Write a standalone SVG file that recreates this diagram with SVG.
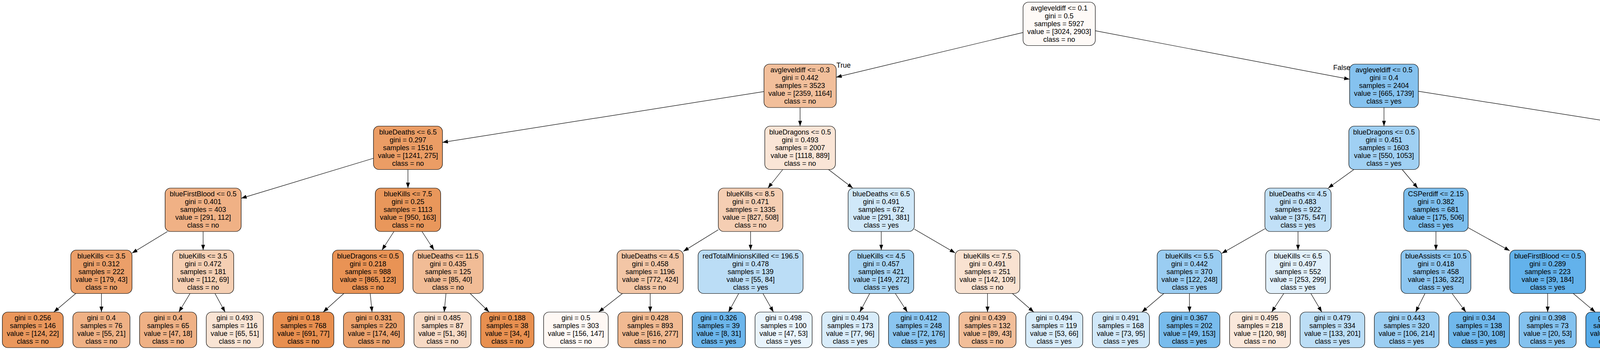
<svg xmlns="http://www.w3.org/2000/svg" width="5259" height="895" viewBox="0 0 5259 895">
<style>
.n rect{stroke:#000;stroke-width:1.2}
text{font-family:"Liberation Sans",Arial,Helvetica,sans-serif;font-size:18px;fill:#000;text-anchor:middle}
.e path{stroke:#000;stroke-width:1.2;fill:none;marker-end:url(#ah)}
</style>
<defs>
<marker id="ah" markerUnits="userSpaceOnUse" markerWidth="14" markerHeight="10" refX="14" refY="5" orient="auto"><path d="M0,0 L14,5 L0,10 z" fill="#000"/></marker>
</defs>
<rect x="0" y="0" width="5259" height="895" fill="#fff"/>
<g id="edges" class="e">
<path d="M2619,83.1 L2140.75,197.4"/>
<path d="M2804,78.6 L3455,202.7"/>
<path d="M1955.75,234.1 L1132.7,364.1"/>
<path d="M2048.25,275 L2048.25,322.5"/>
<path d="M3543,275 L3543,322.5"/>
<path d="M3631,233.4 L4454.45,363.6"/>
<path d="M956.1,404.7 L617.4,507.1"/>
<path d="M1044.4,433.5 L1044.4,481"/>
<path d="M2003.86,433.5 L1965.89,481"/>
<path d="M2121,433.5 L2183.25,481"/>
<path d="M3465.92,433.5 L3399.98,481"/>
<path d="M3589.58,433.5 L3629.42,481"/>
<path d="M4545.3,433.5 L4545.3,481"/>
<path d="M4636.15,429.1 L4749.1,492.7"/>
<path d="M428.8,592 L337.95,647.3"/>
<path d="M520,592 L520,639.5"/>
<path d="M1008.5,592 L977.9,639.5"/>
<path d="M1080.3,592 L1111.1,639.5"/>
<path d="M1838.85,587.5 L1749.35,642.7"/>
<path d="M1921.5,592 L1921.5,639.5"/>
<path d="M2256,592 L2256,639.5"/>
<path d="M2340.8,585.9 L2445.2,646.75"/>
<path d="M3238.1,584.9 L3127.65,647.9"/>
<path d="M3322.9,592 L3322.9,639.5"/>
<path d="M3676,592 L3676,639.5"/>
<path d="M3758.5,582.2 L3865,641.2"/>
<path d="M4512.6,592 L4484.7,639.5"/>
<path d="M4580.4,592 L4610.4,639.5"/>
<path d="M4827,592 L4827,649.5"/>
<path d="M4891.1,592 L4945.9,639.5"/>
<path d="M193.98,750.5 L137.8,798"/>
<path d="M259.6,750.5 L259.6,798"/>
<path d="M486.5,750.5 L457.9,798"/>
<path d="M550.3,750.5 L576.25,798"/>
<path d="M880.2,750.5 L827.35,798"/>
<path d="M947.7,750.5 L952.5,798"/>
<path d="M1141.7,750.5 L1137.15,798"/>
<path d="M1203.7,750.5 L1252.2,798"/>
<path d="M1593.5,750.5 L1532.65,798"/>
<path d="M1664.5,750.5 L1664.5,798"/>
<path d="M1891.1,750.5 L1865,798"/>
<path d="M1953.1,750.5 L1980.1,798"/>
<path d="M2226.4,750.5 L2201.1,798"/>
<path d="M2292,750.5 L2322.9,798"/>
<path d="M2528,750.5 L2528,798"/>
<path d="M2591.8,750.5 L2646.5,798"/>
<path d="M2979.4,750.5 L2923.3,798"/>
<path d="M3045,750.5 L3045,798"/>
<path d="M3286.5,750.5 L3255.4,798"/>
<path d="M3355.8,750.5 L3383.9,798"/>
<path d="M3648,750.5 L3624.05,798"/>
<path d="M3717.3,750.5 L3752.6,798"/>
<path d="M3962,750.5 L3962,798"/>
<path d="M4027.6,750.5 L4083.8,798"/>
<path d="M4398.3,750.5 L4352.4,798"/>
<path d="M4460.3,750.5 L4467.5,798"/>
<path d="M4645.5,750.5 L4645.5,798"/>
<path d="M4709.1,750.5 L4763.6,798"/>
<path d="M5005.9,750.5 L5002.3,798"/>
<path d="M5071.5,750.5 L5124.2,798"/>
<text x="2159.5" y="173">True</text>
<text x="3435" y="178.5">False</text>
</g>
<g id="node0" class="n"><rect x="2619" y="5.5" width="185" height="111" rx="14" fill="#fefaf7"/><text x="2711.5" y="26.6"><tspan x="2711.5">avgleveldiff &lt;= 0.1</tspan><tspan x="2711.5" dy="20">gini = 0.5</tspan><tspan x="2711.5" dy="20">samples = 5927</tspan><tspan x="2711.5" dy="20">value = [3024, 2903]</tspan><tspan x="2711.5" dy="20">class = no</tspan></text></g>
<g id="node1" class="n"><rect x="1955.75" y="164" width="185" height="111" rx="14" fill="#f2bf9b"/><text x="2048.25" y="185.1"><tspan x="2048.25">avgleveldiff &lt;= -0.3</tspan><tspan x="2048.25" dy="20">gini = 0.442</tspan><tspan x="2048.25" dy="20">samples = 3523</tspan><tspan x="2048.25" dy="20">value = [2359, 1164]</tspan><tspan x="2048.25" dy="20">class = no</tspan></text></g>
<g id="node2" class="n"><rect x="3455" y="164" width="176" height="111" rx="14" fill="#85c2ef"/><text x="3543" y="185.1"><tspan x="3543">avgleveldiff &lt;= 0.5</tspan><tspan x="3543" dy="20">gini = 0.4</tspan><tspan x="3543" dy="20">samples = 2404</tspan><tspan x="3543" dy="20">value = [665, 1739]</tspan><tspan x="3543" dy="20">class = yes</tspan></text></g>
<g id="node3" class="n"><rect x="956.1" y="322.5" width="176.6" height="111" rx="14" fill="#eb9d65"/><text x="1044.4" y="343.6"><tspan x="1044.4">blueDeaths &lt;= 6.5</tspan><tspan x="1044.4" dy="20">gini = 0.297</tspan><tspan x="1044.4" dy="20">samples = 1516</tspan><tspan x="1044.4" dy="20">value = [1241, 275]</tspan><tspan x="1044.4" dy="20">class = no</tspan></text></g>
<g id="node4" class="n"><rect x="1957.85" y="322.5" width="180.8" height="111" rx="14" fill="#fae5d6"/><text x="2048.25" y="343.6"><tspan x="2048.25">blueDragons &lt;= 0.5</tspan><tspan x="2048.25" dy="20">gini = 0.493</tspan><tspan x="2048.25" dy="20">samples = 2007</tspan><tspan x="2048.25" dy="20">value = [1118, 889]</tspan><tspan x="2048.25" dy="20">class = no</tspan></text></g>
<g id="node5" class="n"><rect x="3453" y="322.5" width="180" height="111" rx="14" fill="#a0d0f3"/><text x="3543" y="343.6"><tspan x="3543">blueDragons &lt;= 0.5</tspan><tspan x="3543" dy="20">gini = 0.451</tspan><tspan x="3543" dy="20">samples = 1603</tspan><tspan x="3543" dy="20">value = [550, 1053]</tspan><tspan x="3543" dy="20">class = yes</tspan></text></g>
<g id="node6" class="n"><rect x="4454.45" y="322.5" width="181.7" height="111" rx="14" fill="#5aade9"/><text x="4545.3" y="343.6"><tspan x="4545.3">blueDragons &lt;= 0.5</tspan><tspan x="4545.3" dy="20">gini = 0.246</tspan><tspan x="4545.3" dy="20">samples = 801</tspan><tspan x="4545.3" dy="20">value = [115, 686]</tspan><tspan x="4545.3" dy="20">class = yes</tspan></text></g>
<g id="node7" class="n"><rect x="422.6" y="481" width="194.8" height="111" rx="14" fill="#f0b185"/><text x="520" y="502.1"><tspan x="520">blueFirstBlood &lt;= 0.5</tspan><tspan x="520" dy="20">gini = 0.401</tspan><tspan x="520" dy="20">samples = 403</tspan><tspan x="520" dy="20">value = [291, 112]</tspan><tspan x="520" dy="20">class = no</tspan></text></g>
<g id="node8" class="n"><rect x="960.7" y="481" width="167.4" height="111" rx="14" fill="#e9975b"/><text x="1044.4" y="502.1"><tspan x="1044.4">blueKills &lt;= 7.5</tspan><tspan x="1044.4" dy="20">gini = 0.25</tspan><tspan x="1044.4" dy="20">samples = 1113</tspan><tspan x="1044.4" dy="20">value = [950, 163]</tspan><tspan x="1044.4" dy="20">class = no</tspan></text></g>
<g id="node9" class="n"><rect x="1838.85" y="481" width="165.3" height="111" rx="14" fill="#f5ceb3"/><text x="1921.5" y="502.1"><tspan x="1921.5">blueKills &lt;= 8.5</tspan><tspan x="1921.5" dy="20">gini = 0.471</tspan><tspan x="1921.5" dy="20">samples = 1335</tspan><tspan x="1921.5" dy="20">value = [827, 508]</tspan><tspan x="1921.5" dy="20">class = no</tspan></text></g>
<g id="node10" class="n"><rect x="2171.2" y="481" width="169.6" height="111" rx="14" fill="#d0e8f9"/><text x="2256" y="502.1"><tspan x="2256">blueDeaths &lt;= 6.5</tspan><tspan x="2256" dy="20">gini = 0.491</tspan><tspan x="2256" dy="20">samples = 672</tspan><tspan x="2256" dy="20">value = [291, 381]</tspan><tspan x="2256" dy="20">class = yes</tspan></text></g>
<g id="node11" class="n"><rect x="3238.1" y="481" width="169.6" height="111" rx="14" fill="#c1e0f7"/><text x="3322.9" y="502.1"><tspan x="3322.9">blueDeaths &lt;= 4.5</tspan><tspan x="3322.9" dy="20">gini = 0.483</tspan><tspan x="3322.9" dy="20">samples = 922</tspan><tspan x="3322.9" dy="20">value = [375, 547]</tspan><tspan x="3322.9" dy="20">class = yes</tspan></text></g>
<g id="node12" class="n"><rect x="3593.5" y="481" width="165" height="111" rx="14" fill="#7dbfee"/><text x="3676" y="502.1"><tspan x="3676">CSPerdiff &lt;= 2.15</tspan><tspan x="3676" dy="20">gini = 0.382</tspan><tspan x="3676" dy="20">samples = 681</tspan><tspan x="3676" dy="20">value = [175, 506]</tspan><tspan x="3676" dy="20">class = yes</tspan></text></g>
<g id="node13" class="n"><rect x="4460.95" y="481" width="168.7" height="111" rx="14" fill="#6bb6ec"/><text x="4545.3" y="502.1"><tspan x="4545.3">avgleveldiff &lt;= 0.7</tspan><tspan x="4545.3" dy="20">gini = 0.322</tspan><tspan x="4545.3" dy="20">samples = 387</tspan><tspan x="4545.3" dy="20">value = [78, 309]</tspan><tspan x="4545.3" dy="20">class = yes</tspan></text></g>
<g id="node14" class="n"><rect x="4749.1" y="481" width="155.8" height="111" rx="14" fill="#4ca7e8"/><text x="4827" y="502.1"><tspan x="4827">blueKills &lt;= 5.5</tspan><tspan x="4827" dy="20">gini = 0.163</tspan><tspan x="4827" dy="20">samples = 414</tspan><tspan x="4827" dy="20">value = [37, 377]</tspan><tspan x="4827" dy="20">class = yes</tspan></text></g>
<g id="node15" class="n"><rect x="181.25" y="639.5" width="156.7" height="111" rx="14" fill="#eb9f69"/><text x="259.6" y="660.6"><tspan x="259.6">blueKills &lt;= 3.5</tspan><tspan x="259.6" dy="20">gini = 0.312</tspan><tspan x="259.6" dy="20">samples = 222</tspan><tspan x="259.6" dy="20">value = [179, 43]</tspan><tspan x="259.6" dy="20">class = no</tspan></text></g>
<g id="node16" class="n"><rect x="441.65" y="639.5" width="156.7" height="111" rx="14" fill="#f5cfb3"/><text x="520" y="660.6"><tspan x="520">blueKills &lt;= 3.5</tspan><tspan x="520" dy="20">gini = 0.472</tspan><tspan x="520" dy="20">samples = 181</tspan><tspan x="520" dy="20">value = [112, 69]</tspan><tspan x="520" dy="20">class = no</tspan></text></g>
<g id="node17" class="n"><rect x="851.2" y="639.5" width="181.6" height="111" rx="14" fill="#e99355"/><text x="942" y="660.6"><tspan x="942">blueDragons &lt;= 0.5</tspan><tspan x="942" dy="20">gini = 0.218</tspan><tspan x="942" dy="20">samples = 988</tspan><tspan x="942" dy="20">value = [865, 123]</tspan><tspan x="942" dy="20">class = no</tspan></text></g>
<g id="node18" class="n"><rect x="1057" y="639.5" width="180" height="111" rx="14" fill="#f1bc96"/><text x="1147" y="660.6"><tspan x="1147">blueDeaths &lt;= 11.5</tspan><tspan x="1147" dy="20">gini = 0.435</tspan><tspan x="1147" dy="20">samples = 125</tspan><tspan x="1147" dy="20">value = [85, 40]</tspan><tspan x="1147" dy="20">class = no</tspan></text></g>
<g id="node19" class="n"><rect x="1579.65" y="639.5" width="169.7" height="111" rx="14" fill="#f3c6a6"/><text x="1664.5" y="660.6"><tspan x="1664.5">blueDeaths &lt;= 4.5</tspan><tspan x="1664.5" dy="20">gini = 0.458</tspan><tspan x="1664.5" dy="20">samples = 1196</tspan><tspan x="1664.5" dy="20">value = [772, 424]</tspan><tspan x="1664.5" dy="20">class = no</tspan></text></g>
<g id="node20" class="n"><rect x="1787.15" y="639.5" width="268.7" height="111" rx="14" fill="#bbddf6"/><text x="1921.5" y="660.6"><tspan x="1921.5">redTotalMinionsKilled &lt;= 196.5</tspan><tspan x="1921.5" dy="20">gini = 0.478</tspan><tspan x="1921.5" dy="20">samples = 139</tspan><tspan x="1921.5" dy="20">value = [55, 84]</tspan><tspan x="1921.5" dy="20">class = yes</tspan></text></g>
<g id="node21" class="n"><rect x="2172.9" y="639.5" width="166.2" height="111" rx="14" fill="#a5d3f3"/><text x="2256" y="660.6"><tspan x="2256">blueKills &lt;= 4.5</tspan><tspan x="2256" dy="20">gini = 0.457</tspan><tspan x="2256" dy="20">samples = 421</tspan><tspan x="2256" dy="20">value = [149, 272]</tspan><tspan x="2256" dy="20">class = yes</tspan></text></g>
<g id="node22" class="n"><rect x="2445.2" y="639.5" width="165.6" height="111" rx="14" fill="#f9e2d1"/><text x="2528" y="660.6"><tspan x="2528">blueKills &lt;= 7.5</tspan><tspan x="2528" dy="20">gini = 0.491</tspan><tspan x="2528" dy="20">samples = 251</tspan><tspan x="2528" dy="20">value = [142, 109]</tspan><tspan x="2528" dy="20">class = no</tspan></text></g>
<g id="node23" class="n"><rect x="2962.35" y="639.5" width="165.3" height="111" rx="14" fill="#9acdf2"/><text x="3045" y="660.6"><tspan x="3045">blueKills &lt;= 5.5</tspan><tspan x="3045" dy="20">gini = 0.442</tspan><tspan x="3045" dy="20">samples = 370</tspan><tspan x="3045" dy="20">value = [122, 248]</tspan><tspan x="3045" dy="20">class = yes</tspan></text></g>
<g id="node24" class="n"><rect x="3240.25" y="639.5" width="165.3" height="111" rx="14" fill="#e1f0fb"/><text x="3322.9" y="660.6"><tspan x="3322.9">blueKills &lt;= 6.5</tspan><tspan x="3322.9" dy="20">gini = 0.497</tspan><tspan x="3322.9" dy="20">samples = 552</tspan><tspan x="3322.9" dy="20">value = [253, 299]</tspan><tspan x="3322.9" dy="20">class = yes</tspan></text></g>
<g id="node25" class="n"><rect x="3586.5" y="639.5" width="179" height="111" rx="14" fill="#8dc6f0"/><text x="3676" y="660.6"><tspan x="3676">blueAssists &lt;= 10.5</tspan><tspan x="3676" dy="20">gini = 0.418</tspan><tspan x="3676" dy="20">samples = 458</tspan><tspan x="3676" dy="20">value = [136, 322]</tspan><tspan x="3676" dy="20">class = yes</tspan></text></g>
<g id="node26" class="n"><rect x="3865" y="639.5" width="194" height="111" rx="14" fill="#63b2eb"/><text x="3962" y="660.6"><tspan x="3962">blueFirstBlood &lt;= 0.5</tspan><tspan x="3962" dy="20">gini = 0.289</tspan><tspan x="3962" dy="20">samples = 223</tspan><tspan x="3962" dy="20">value = [39, 184]</tspan><tspan x="3962" dy="20">class = yes</tspan></text></g>
<g id="node27" class="n"><rect x="4366.75" y="639.5" width="170.5" height="111" rx="14" fill="#7fc0ee"/><text x="4452" y="660.6"><tspan x="4452">blueDeaths &lt;= 3.5</tspan><tspan x="4452" dy="20">gini = 0.386</tspan><tspan x="4452" dy="20">samples = 207</tspan><tspan x="4452" dy="20">value = [54, 153]</tspan><tspan x="4452" dy="20">class = yes</tspan></text></g>
<g id="node28" class="n"><rect x="4562.85" y="639.5" width="165.3" height="111" rx="14" fill="#57ace9"/><text x="4645.5" y="660.6"><tspan x="4645.5">CSPerdiff &lt;= 1.75</tspan><tspan x="4645.5" dy="20">gini = 0.231</tspan><tspan x="4645.5" dy="20">samples = 180</tspan><tspan x="4645.5" dy="20">value = [24, 156]</tspan><tspan x="4645.5" dy="20">class = yes</tspan></text></g>
<g id="node29" class="n"><rect x="4754.25" y="649.5" width="145.5" height="91" rx="14" fill="#79bced"/><text x="4827" y="670.6"><tspan x="4827">gini = 0.369</tspan><tspan x="4827" dy="20">samples = 41</tspan><tspan x="4827" dy="20">value = [10, 31]</tspan><tspan x="4827" dy="20">class = yes</tspan></text></g>
<g id="node30" class="n"><rect x="4925.2" y="639.5" width="169.6" height="111" rx="14" fill="#48a5e7"/><text x="5010" y="660.6"><tspan x="5010">blueDeaths &lt;= 3.5</tspan><tspan x="5010" dy="20">gini = 0.134</tspan><tspan x="5010" dy="20">samples = 373</tspan><tspan x="5010" dy="20">value = [27, 346]</tspan><tspan x="5010" dy="20">class = yes</tspan></text></g>
<g id="leaf1" class="n"><rect x="6" y="798" width="155.9" height="91" rx="14" fill="#ea975c"/><text x="84" y="819.1"><tspan x="84">gini = 0.256</tspan><tspan x="84" dy="20">samples = 146</tspan><tspan x="84" dy="20">value = [124, 22]</tspan><tspan x="84" dy="20">class = no</tspan></text></g>
<g id="leaf2" class="n"><rect x="186.5" y="798" width="146.2" height="91" rx="14" fill="#efb185"/><text x="259.6" y="819.1"><tspan x="259.6">gini = 0.4</tspan><tspan x="259.6" dy="20">samples = 76</tspan><tspan x="259.6" dy="20">value = [55, 21]</tspan><tspan x="259.6" dy="20">class = no</tspan></text></g>
<g id="leaf3" class="n"><rect x="357.3" y="798" width="146.2" height="91" rx="14" fill="#efb185"/><text x="430.4" y="819.1"><tspan x="430.4">gini = 0.4</tspan><tspan x="430.4" dy="20">samples = 65</tspan><tspan x="430.4" dy="20">value = [47, 18]</tspan><tspan x="430.4" dy="20">class = no</tspan></text></g>
<g id="leaf4" class="n"><rect x="528" y="798" width="146.2" height="91" rx="14" fill="#f9e4d4"/><text x="601.1" y="819.1"><tspan x="601.1">gini = 0.493</tspan><tspan x="601.1" dy="20">samples = 116</tspan><tspan x="601.1" dy="20">value = [65, 51]</tspan><tspan x="601.1" dy="20">class = no</tspan></text></g>
<g id="leaf5" class="n"><rect x="698.8" y="798" width="155.9" height="91" rx="14" fill="#e88f4f"/><text x="776.7" y="819.1"><tspan x="776.7">gini = 0.18</tspan><tspan x="776.7" dy="20">samples = 768</tspan><tspan x="776.7" dy="20">value = [691, 77]</tspan><tspan x="776.7" dy="20">class = no</tspan></text></g>
<g id="leaf6" class="n"><rect x="879.3" y="798" width="155.9" height="91" rx="14" fill="#eca26d"/><text x="957.2" y="819.1"><tspan x="957.2">gini = 0.331</tspan><tspan x="957.2" dy="20">samples = 220</tspan><tspan x="957.2" dy="20">value = [174, 46]</tspan><tspan x="957.2" dy="20">class = no</tspan></text></g>
<g id="leaf7" class="n"><rect x="1059.7" y="798" width="146.2" height="91" rx="14" fill="#f7dac5"/><text x="1132.8" y="819.1"><tspan x="1132.8">gini = 0.485</tspan><tspan x="1132.8" dy="20">samples = 87</tspan><tspan x="1132.8" dy="20">value = [51, 36]</tspan><tspan x="1132.8" dy="20">class = no</tspan></text></g>
<g id="leaf8" class="n"><rect x="1230.5" y="798" width="136.5" height="91" rx="14" fill="#e89050"/><text x="1298.7" y="819.1"><tspan x="1298.7">gini = 0.188</tspan><tspan x="1298.7" dy="20">samples = 38</tspan><tspan x="1298.7" dy="20">value = [34, 4]</tspan><tspan x="1298.7" dy="20">class = no</tspan></text></g>
<g id="leaf9" class="n"><rect x="1391.6" y="798" width="165.6" height="91" rx="14" fill="#fef8f4"/><text x="1474.4" y="819.1"><tspan x="1474.4">gini = 0.5</tspan><tspan x="1474.4" dy="20">samples = 303</tspan><tspan x="1474.4" dy="20">value = [156, 147]</tspan><tspan x="1474.4" dy="20">class = no</tspan></text></g>
<g id="leaf10" class="n"><rect x="1581.7" y="798" width="165.6" height="91" rx="14" fill="#f1ba92"/><text x="1664.5" y="819.1"><tspan x="1664.5">gini = 0.428</tspan><tspan x="1664.5" dy="20">samples = 893</tspan><tspan x="1664.5" dy="20">value = [616, 277]</tspan><tspan x="1664.5" dy="20">class = no</tspan></text></g>
<g id="leaf11" class="n"><rect x="1771.9" y="798" width="136.5" height="91" rx="14" fill="#6cb6ec"/><text x="1840.1" y="819.1"><tspan x="1840.1">gini = 0.326</tspan><tspan x="1840.1" dy="20">samples = 39</tspan><tspan x="1840.1" dy="20">value = [8, 31]</tspan><tspan x="1840.1" dy="20">class = yes</tspan></text></g>
<g id="leaf12" class="n"><rect x="1932.9" y="798" width="146.2" height="91" rx="14" fill="#e9f4fc"/><text x="2006" y="819.1"><tspan x="2006">gini = 0.498</tspan><tspan x="2006" dy="20">samples = 100</tspan><tspan x="2006" dy="20">value = [47, 53]</tspan><tspan x="2006" dy="20">class = yes</tspan></text></g>
<g id="leaf13" class="n"><rect x="2103.7" y="798" width="146.2" height="91" rx="14" fill="#d8ecfa"/><text x="2176.8" y="819.1"><tspan x="2176.8">gini = 0.494</tspan><tspan x="2176.8" dy="20">samples = 173</tspan><tspan x="2176.8" dy="20">value = [77, 96]</tspan><tspan x="2176.8" dy="20">class = yes</tspan></text></g>
<g id="leaf14" class="n"><rect x="2274.5" y="798" width="155.9" height="91" rx="14" fill="#8ac5f0"/><text x="2352.4" y="819.1"><tspan x="2352.4">gini = 0.412</tspan><tspan x="2352.4" dy="20">samples = 248</tspan><tspan x="2352.4" dy="20">value = [72, 176]</tspan><tspan x="2352.4" dy="20">class = yes</tspan></text></g>
<g id="leaf15" class="n"><rect x="2454.9" y="798" width="146.2" height="91" rx="14" fill="#f2be99"/><text x="2528" y="819.1"><tspan x="2528">gini = 0.439</tspan><tspan x="2528" dy="20">samples = 132</tspan><tspan x="2528" dy="20">value = [89, 43]</tspan><tspan x="2528" dy="20">class = no</tspan></text></g>
<g id="leaf16" class="n"><rect x="2625.7" y="798" width="146.2" height="91" rx="14" fill="#d8ecfa"/><text x="2698.8" y="819.1"><tspan x="2698.8">gini = 0.494</tspan><tspan x="2698.8" dy="20">samples = 119</tspan><tspan x="2698.8" dy="20">value = [53, 66]</tspan><tspan x="2698.8" dy="20">class = yes</tspan></text></g>
<g id="leaf17" class="n"><rect x="2796.4" y="798" width="146.2" height="91" rx="14" fill="#d1e8f9"/><text x="2869.5" y="819.1"><tspan x="2869.5">gini = 0.491</tspan><tspan x="2869.5" dy="20">samples = 168</tspan><tspan x="2869.5" dy="20">value = [73, 95]</tspan><tspan x="2869.5" dy="20">class = yes</tspan></text></g>
<g id="leaf18" class="n"><rect x="2967.05" y="798" width="155.9" height="91" rx="14" fill="#78bced"/><text x="3045" y="819.1"><tspan x="3045">gini = 0.367</tspan><tspan x="3045" dy="20">samples = 202</tspan><tspan x="3045" dy="20">value = [49, 153]</tspan><tspan x="3045" dy="20">class = yes</tspan></text></g>
<g id="leaf19" class="n"><rect x="3147.6" y="798" width="155.9" height="91" rx="14" fill="#fae8db"/><text x="3225.6" y="819.1"><tspan x="3225.6">gini = 0.495</tspan><tspan x="3225.6" dy="20">samples = 218</tspan><tspan x="3225.6" dy="20">value = [120, 98]</tspan><tspan x="3225.6" dy="20">class = no</tspan></text></g>
<g id="leaf20" class="n"><rect x="3328.1" y="798" width="165.6" height="91" rx="14" fill="#bcdef6"/><text x="3410.9" y="819.1"><tspan x="3410.9">gini = 0.479</tspan><tspan x="3410.9" dy="20">samples = 334</tspan><tspan x="3410.9" dy="20">value = [133, 201]</tspan><tspan x="3410.9" dy="20">class = yes</tspan></text></g>
<g id="leaf21" class="n"><rect x="3518.3" y="798" width="165.6" height="91" rx="14" fill="#9bcef2"/><text x="3601.1" y="819.1"><tspan x="3601.1">gini = 0.443</tspan><tspan x="3601.1" dy="20">samples = 320</tspan><tspan x="3601.1" dy="20">value = [106, 214]</tspan><tspan x="3601.1" dy="20">class = yes</tspan></text></g>
<g id="leaf22" class="n"><rect x="3708.4" y="798" width="155.9" height="91" rx="14" fill="#70b8ec"/><text x="3786.4" y="819.1"><tspan x="3786.4">gini = 0.34</tspan><tspan x="3786.4" dy="20">samples = 138</tspan><tspan x="3786.4" dy="20">value = [30, 108]</tspan><tspan x="3786.4" dy="20">class = yes</tspan></text></g>
<g id="leaf23" class="n"><rect x="3888.9" y="798" width="146.2" height="91" rx="14" fill="#84c2ef"/><text x="3962" y="819.1"><tspan x="3962">gini = 0.398</tspan><tspan x="3962" dy="20">samples = 73</tspan><tspan x="3962" dy="20">value = [20, 53]</tspan><tspan x="3962" dy="20">class = yes</tspan></text></g>
<g id="leaf24" class="n"><rect x="4059.6" y="798" width="155.9" height="91" rx="14" fill="#56abe9"/><text x="4137.6" y="819.1"><tspan x="4137.6">gini = 0.221</tspan><tspan x="4137.6" dy="20">samples = 150</tspan><tspan x="4137.6" dy="20">value = [19, 131]</tspan><tspan x="4137.6" dy="20">class = yes</tspan></text></g>
<g id="leaf25" class="n"><rect x="4240.1" y="798" width="136.5" height="91" rx="14" fill="#55abe9"/><text x="4308.4" y="819.1"><tspan x="4308.4">gini = 0.219</tspan><tspan x="4308.4" dy="20">samples = 64</tspan><tspan x="4308.4" dy="20">value = [8, 56]</tspan><tspan x="4308.4" dy="20">class = yes</tspan></text></g>
<g id="leaf26" class="n"><rect x="4401.2" y="798" width="146.2" height="91" rx="14" fill="#97cbf1"/><text x="4474.3" y="819.1"><tspan x="4474.3">gini = 0.436</tspan><tspan x="4474.3" dy="20">samples = 143</tspan><tspan x="4474.3" dy="20">value = [46, 97]</tspan><tspan x="4474.3" dy="20">class = yes</tspan></text></g>
<g id="leaf27" class="n"><rect x="4572.4" y="798" width="146.2" height="91" rx="14" fill="#7ebfee"/><text x="4645.5" y="819.1"><tspan x="4645.5">gini = 0.383</tspan><tspan x="4645.5" dy="20">samples = 58</tspan><tspan x="4645.5" dy="20">value = [15, 43]</tspan><tspan x="4645.5" dy="20">class = yes</tspan></text></g>
<g id="leaf28" class="n"><rect x="4742.7" y="798" width="146.2" height="91" rx="14" fill="#49a5e7"/><text x="4815.8" y="819.1"><tspan x="4815.8">gini = 0.137</tspan><tspan x="4815.8" dy="20">samples = 122</tspan><tspan x="4815.8" dy="20">value = [9, 113]</tspan><tspan x="4815.8" dy="20">class = yes</tspan></text></g>
<g id="leaf29" class="n"><rect x="4925.8" y="798" width="146.2" height="91" rx="14" fill="#41a1e6"/><text x="4998.9" y="819.1"><tspan x="4998.9">gini = 0.073</tspan><tspan x="4998.9" dy="20">samples = 185</tspan><tspan x="4998.9" dy="20">value = [7, 178]</tspan><tspan x="4998.9" dy="20">class = yes</tspan></text></g>
<g id="leaf30" class="n"><rect x="5096.6" y="798" width="155.9" height="91" rx="14" fill="#51a9e8"/><text x="5174.6" y="819.1"><tspan x="5174.6">gini = 0.19</tspan><tspan x="5174.6" dy="20">samples = 188</tspan><tspan x="5174.6" dy="20">value = [20, 168]</tspan><tspan x="5174.6" dy="20">class = yes</tspan></text></g>
</svg>
